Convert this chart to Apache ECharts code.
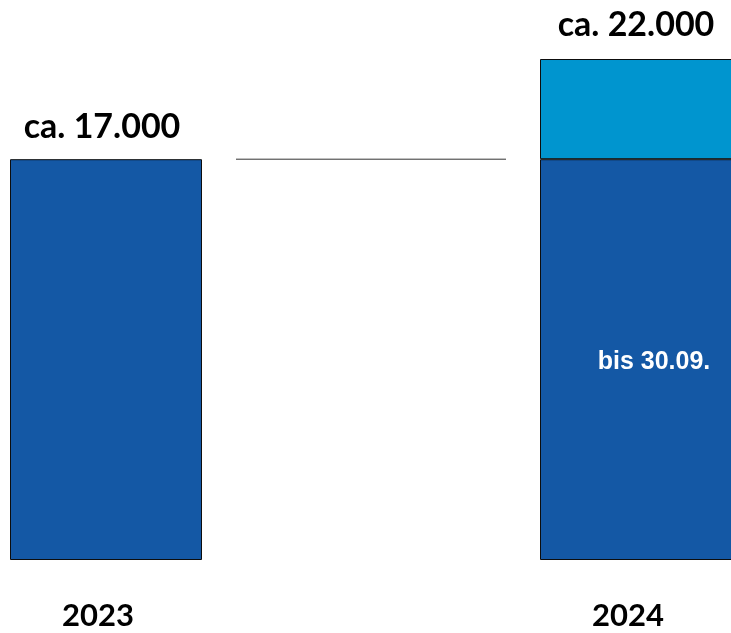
<!DOCTYPE html>
<html>
<head>
<meta charset="utf-8">
<script src="https://cdn.jsdelivr.net/npm/echarts@6/dist/echarts.min.js"></script>
<style>html,body{margin:0;padding:0;background:#fff;}#c{width:731px;height:633px;}</style>
</head>
<body>
<div id="c"></div>
<script>
var categories = ['2023', '2024'];
var baseValues = [17600, 17600];
var addValues = ['-', 4400];
var baseLabels = ['ca. 17.000', 'bis 30.09.'];
var totalLabels = ['', 'ca. 22.000'];

var chart = echarts.init(document.getElementById('c'));
var darkBlue = '#1458a5', lightBlue = '#0095cf';

var option = {
  animation: false,
  grid: { left: 106, right: 95, top: 59, bottom: 73, containLabel: false },
  xAxis: {
    type: 'category', data: categories, boundaryGap: false,
    axisLine: { show: false }, axisTick: { show: false }, splitLine: { show: false },
    axisLabel: { margin: 40, fontFamily: 'Lato', fontWeight: 'bold', fontSize: 31, color: '#000', padding: [0, 16, 0, 0] }
  },
  yAxis: { type: 'value', min: 0, max: 22000, show: false, splitLine: { show: false } },
  series: [
    {
      type: 'bar', stack: 's', barWidth: 192, clip: false,
      itemStyle: { color: darkBlue, borderColor: '#0d0d0d', borderWidth: 1 },
      data: baseValues.map(function (v, i) {
        var lbl = i === 0
          ? { show: true, position: 'top', distance: 15, formatter: baseLabels[i], fontFamily: 'Lato', fontWeight: 'bold', fontSize: 34, color: '#000', offset: [-4, 0] }
          : { show: true, position: 'inside', formatter: baseLabels[i], fontFamily: 'Liberation Sans', fontWeight: 'bold', fontSize: 25, color: '#fff', offset: [18, 3] };
        return { value: v, label: lbl };
      })
    },
    {
      type: 'bar', stack: 's', barWidth: 192, clip: false,
      itemStyle: { color: lightBlue, borderColor: '#0d0d0d', borderWidth: 1 },
      label: { show: true, position: 'top', distance: 17, formatter: function (p) { return totalLabels[p.dataIndex]; }, fontFamily: 'Lato', fontWeight: 'bold', fontSize: 34, color: '#000' },
      data: addValues
    }
  ]
};
chart.setOption(option);

// connector line between the bars at the 2023 level
var p1 = chart.convertToPixel({ gridIndex: 0 }, [categories[0], baseValues[0]]);
var p2 = chart.convertToPixel({ gridIndex: 0 }, [categories[1], baseValues[1]]);
var half = 96, gap = 34;
chart.setOption({
  graphic: [{
    type: 'line',
    shape: { x1: p1[0] + half + gap, y1: p1[1], x2: p2[0] - half - gap, y2: p2[1] },
    style: { stroke: '#333', lineWidth: 1 }
  }]
});
</script>
</body>
</html>
